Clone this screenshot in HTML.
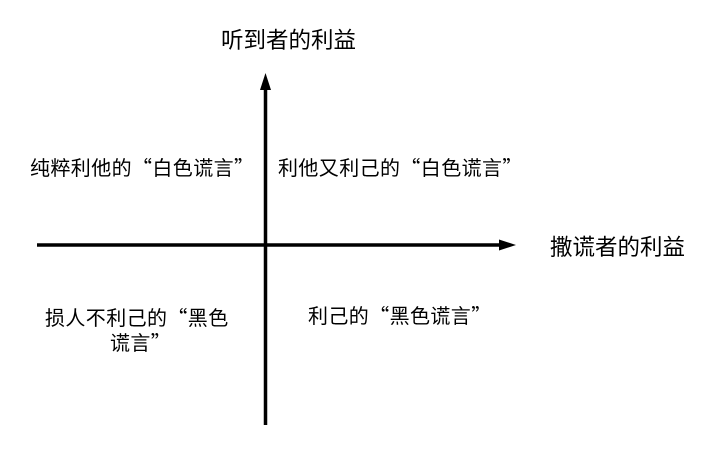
<!DOCTYPE html>
<html><head><meta charset="utf-8"><style>
body{margin:0;width:716px;height:457px;background:#fff;overflow:hidden;position:relative;font-family:"Noto Sans CJK SC","Liberation Sans",sans-serif;color:#000}
.t{position:absolute;white-space:nowrap;font-size:20px;line-height:24px}
</style></head><body>
<svg width="716" height="457" style="position:absolute;left:0;top:0">
<line x1="265.5" y1="88" x2="265.5" y2="425" stroke="#000" stroke-width="3.5"/>
<polygon points="265.5,73 260,90 271,90" fill="#000"/>
<line x1="37" y1="245" x2="502" y2="245" stroke="#000" stroke-width="3.5"/>
<polygon points="516,245 499,239.5 499,250.5" fill="#000"/>
</svg>
<div class="t" style="left:221px;top:25px;font-size:22.5px;line-height:28px">听到者的利益</div>
<div class="t" style="left:550px;top:232px;font-size:22.5px;line-height:28px">撒谎者的利益</div>
<div class="t" style="left:30px;top:155px;letter-spacing:0.4px">纯粹利他的“白色谎言”</div>
<div class="t" style="left:278px;top:155px;letter-spacing:0.4px">利他又利己的“白色谎言”</div>
<div class="t" style="left:45px;top:305px;letter-spacing:0.4px">损人不利己的“黑色</div>
<div class="t" style="left:110px;top:330px;letter-spacing:0.4px">谎言”</div>
<div class="t" style="left:308px;top:303px;letter-spacing:0.4px">利己的“黑色谎言”</div>
</body></html>
